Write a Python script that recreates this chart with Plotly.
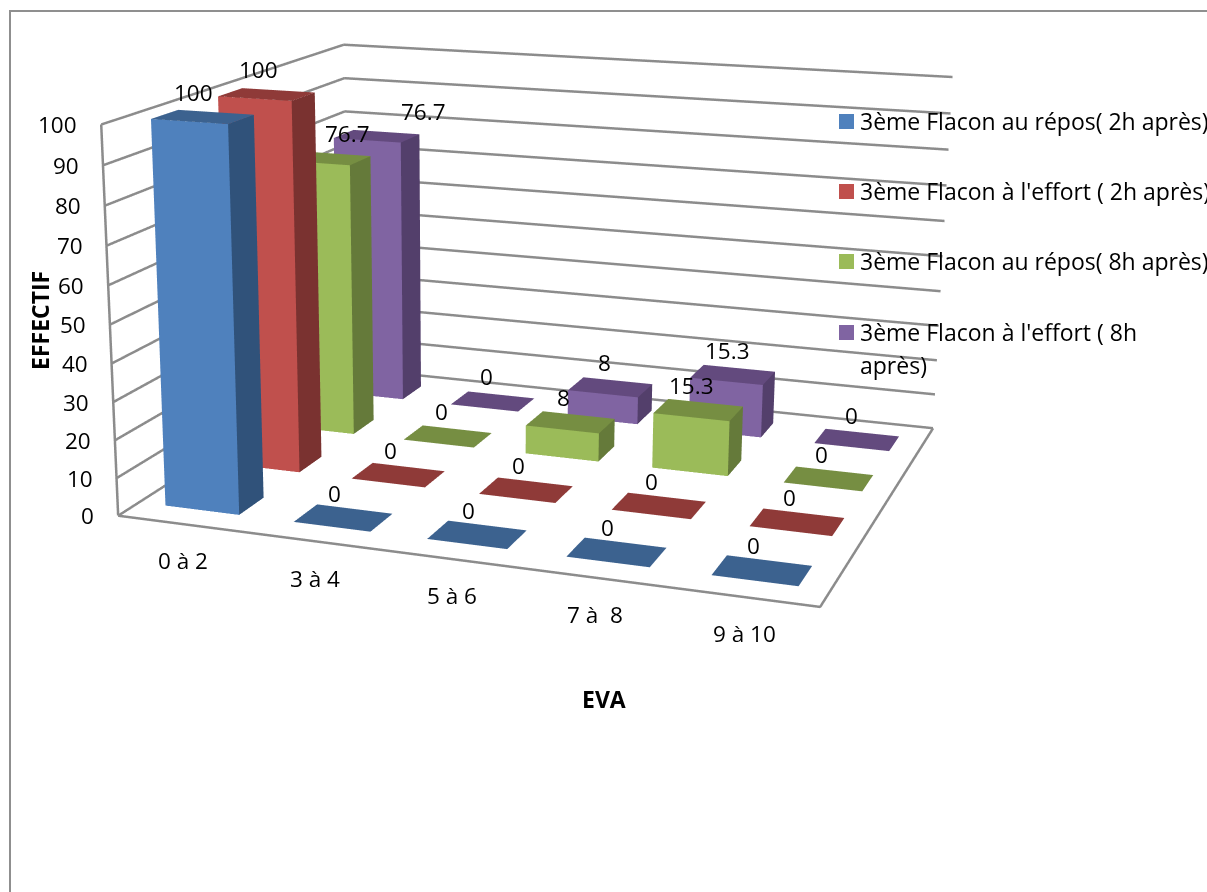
import plotly.graph_objects as go

W, H = 1207, 892
categories = ["0 à 2", "3 à 4", "5 à 6", "7 à  8", "9 à 10"]
series_names = ["3ème Flacon au répos( 2h après)", "3ème Flacon à l'effort ( 2h après)",
                "3ème Flacon au répos( 8h après)", "3ème Flacon à l'effort ( 8h<br>après)"]
s1 = [100, 0, 0, 0, 0]
s2 = [100, 0, 0, 0, 0]
s3 = [76.7, 0, 8, 15.3, 0]
s4 = [76.7, 0, 8, 15.3, 0]
ticks = list(range(0, 101, 10))
front = ["#4F81BD", "#C0504D", "#9BBB59", "#8064A2"]
side = ["#30527A", "#7A3230", "#657A3A", "#533F6B"]
top = ["#3C628F", "#8F3A38", "#768E42", "#634A7E"]

# The scene is larger than the window (a long lens, as in the original 3-D view);
# the page is offset so that the window shows the chart area.
OX, OY = 100, 607
FW, FH = W + OX, 1969
BAR_W, BAR_D = 0.290, 0.196
values = [s1, s2, s3, s4]

data = []
for si, vals in enumerate(values):
    X, Y, Z, I, J, K, C = [], [], [], [], [], [], []
    for ci, v in enumerate(vals):
        x0, x1 = ci + .5 - BAR_W, ci + .5 + BAR_W
        y0, y1 = si + .5 - BAR_D, si + .5 + BAR_D
        n = len(X)
        X += [x0, x1, x1, x0, x0, x1, x1, x0]
        Y += [y0, y0, y1, y1, y0, y0, y1, y1]
        Z += [0, 0, 0, 0, v, v, v, v]
        faces = [((4, 5, 6), top[si]), ((4, 6, 7), top[si]),
                 ((0, 1, 5), front[si]), ((0, 5, 4), front[si]),
                 ((1, 2, 6), side[si]), ((1, 6, 5), side[si])]
        for (a, b, c), col in faces:
            I.append(n + a); J.append(n + b); K.append(n + c); C.append(col)
    data.append(go.Mesh3d(x=X, y=Y, z=Z, i=I, j=J, k=K, facecolor=C, flatshading=True,
                          lighting=dict(ambient=1, diffuse=0, specular=0, roughness=1, fresnel=0),
                          hoverinfo="skip", showscale=False))

gx, gy, gz = [], [], []
for t in ticks:
    gx += [0, 0, 5, None]; gy += [0, 4, 4, None]; gz += [t, t, t, None]
gx += [0, 0, None, 0, 5, 5, None]
gy += [0, 0, None, 0, 0, 4, None]
gz += [0, 100, None, 0, 0, 0, None]
data.append(go.Scatter3d(x=gx, y=gy, z=gz, mode="lines", line=dict(color="#8C8C8C", width=5),
                         hoverinfo="skip", showlegend=False))

font = dict(family="Open Sans", size=22.5, color="#000000")
ann = []
for t in ticks:
    ann.append(dict(x=0, y=0, z=t, text=str(t), showarrow=False, xanchor="right", xshift=-22, font=font))
for ci, cn in enumerate(categories):
    ann.append(dict(x=ci + .5, y=0, z=0, text=cn, showarrow=False, xshift=1, yshift=-37, font=font))
extra_dx = {(2, 0): 29, (3, 0): 53}
for si, vals in enumerate(values):
    for ci, v in enumerate(vals):
        ann.append(dict(x=ci + .5, y=si + .5, z=v, text=str(v), showarrow=False,
                        xshift=-9 + si + extra_dx.get((si, ci), 0), yshift=24.5, font=font))

def xp(v): return (v + OX) / FW
def yp(v): return 1 - (v + OY) / FH

shapes = [dict(type="rect", xref="paper", yref="paper", x0=xp(10), x1=xp(1230), y0=yp(11), y1=yp(910),
               line=dict(color="#8F8F8F", width=2))]
panno = []
legend_font = dict(family="Open Sans", size=23, color="#000000")
for n, (name, ycen, col) in enumerate(zip(series_names, [122, 192, 262, 333], front)):
    shapes.append(dict(type="rect", xref="paper", yref="paper", x0=xp(839), x1=xp(854),
                       y0=yp(ycen - 8), y1=yp(ycen + 7), fillcolor=col, line=dict(width=0)))
    for li, part in enumerate(name.split("<br>")):
        panno.append(dict(xref="paper", yref="paper", x=xp(858), y=yp(ycen - 1 + 33 * li), text=part,
                          showarrow=False, xanchor="left", yanchor="middle", font=legend_font))
title_font = dict(family="Open Sans", size=23, color="#000000")
panno.append(dict(xref="paper", yref="paper", x=xp(604), y=yp(699), text="<b>EVA</b>", showarrow=False,
                  xanchor="center", yanchor="middle", font=title_font))
panno.append(dict(xref="paper", yref="paper", x=xp(40), y=yp(321), text="<b>EFFECTIF</b>", showarrow=False,
                  xanchor="center", yanchor="middle", textangle=-90, font=title_font))

fig = go.Figure(data)
fig.update_layout(
    width=FW, height=FH, margin=dict(l=0, r=0, t=0, b=0), paper_bgcolor="white", showlegend=False,
    shapes=shapes, annotations=panno,
    scene=dict(
        domain=dict(x=[0, 2 * (473.2 + OX) / FW], y=[0, 1]),
        xaxis=dict(visible=False, range=[0, 5]),
        yaxis=dict(visible=False, range=[0, 4]),
        zaxis=dict(visible=False, range=[0, 100]),
        aspectmode="manual", aspectratio=dict(x=1.850, y=1.512, z=1.026), bgcolor="white",
        camera=dict(eye=dict(x=1.978, y=-5.908, z=1.527), center=dict(x=-0.081, y=-0.380, z=-0.156),
                    up=dict(x=0, y=0, z=1), projection=dict(type="perspective")),
        annotations=ann))
fig.write_html("out.html", config=dict(displayModeBar=False),
               post_script="document.documentElement.style.overflow='hidden';document.body.style.overflow='hidden';"
                           "document.body.style.margin='-%dpx 0 0 -%dpx';" % (OY, OX))
